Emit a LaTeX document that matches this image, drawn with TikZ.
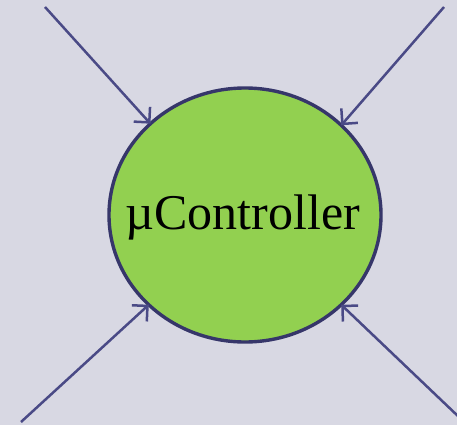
\documentclass[tikz,border=0pt]{standalone}
\usepackage{fontspec}
\setmainfont{Liberation Serif}
\usetikzlibrary{shapes.geometric,arrows.meta}
\definecolor{bgcol}{HTML}{D8D8E3}
\definecolor{chipgreen}{HTML}{92D050}
\definecolor{rimcol}{HTML}{36366A}
\definecolor{wirecol}{HTML}{4A4A86}
\tikzset{
  chip/.style={ellipse, draw=rimcol, line width=3.4pt, fill=chipgreen,
    minimum width=272pt, minimum height=254pt, inner sep=0pt, outer sep=0pt},
  chiplabel/.style={inner sep=0pt, font=\fontsize{50}{50}\selectfont},
  feed/.style={draw=wirecol, line width=2.5pt,
    -{Straight Barb[length=11pt,width=22pt,line width=2.5pt]}}
}
\begin{document}
\begin{tikzpicture}[x=1pt,y=-1pt]
  \fill[bgcol] (0,0) rectangle (457,425);
  \useasboundingbox (0,0) rectangle (457,425);
  \node[chip] (mc) at (245,215) {};
  \node[chiplabel] (lbl) at (243,217) {µController};
  \coordinate (tl) at (45,7);
  \coordinate (tr) at (444,7);
  \coordinate (bl) at (21,422);
  \coordinate (br) at (460,418);
  \draw[feed] (tl) -- (mc.136.5);
  \draw[feed] (tr) -- (mc.43.8);
  \draw[feed] (bl) -- (mc.223.2);
  \draw[feed] (br) -- (mc.-43.2);
\end{tikzpicture}
\end{document}
